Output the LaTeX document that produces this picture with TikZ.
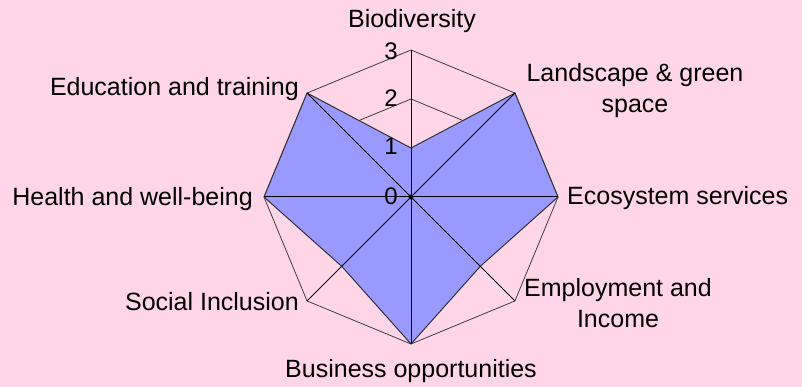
\documentclass[tikz,border=0pt]{standalone}
\usepackage{fontspec}
\setmainfont{Liberation Sans}
\definecolor{chartpink}{RGB}{255,214,231}
\definecolor{chartblue}{RGB}{153,153,255}
\begin{document}
\begin{tikzpicture}[x=1pt, y=1pt,
    gridline/.style={draw=black!75, line width=0.8pt},
    axisline/.style={draw=black, line width=1pt},
    areafill/.style={fill=chartblue, draw=black!80, line width=1pt, line join=round},
    catlabel/.style={font=\fontsize{25}{31}\selectfont, text=black, inner sep=0pt, align=center},
    ticklabel/.style={font=\fontsize{24}{28}\selectfont, text=black, inner sep=0pt, anchor=east}]

    \fill[chartpink] (-411,-190) rectangle (391,197);
    \useasboundingbox (-411,-190) rectangle (391,197);

    \coordinate (centre) at (0,0);
    \coordinate (bio) at (90:147);
    \coordinate (land) at (45:147);
    \coordinate (eco) at (0:147);
    \coordinate (employ) at (-45:147);
    \coordinate (business) at (-90:147);
    \coordinate (social) at (-135:147);
    \coordinate (health) at (180:147);
    \coordinate (educ) at (135:147);

    \foreach \r in {49,98,147}
        \draw[gridline] (90:\r) -- (45:\r) -- (0:\r) -- (-45:\r) -- (-90:\r) -- (-135:\r) -- (180:\r) -- (135:\r) -- cycle ;

    \draw[areafill] (90:49) -- (land) -- (eco) -- (-45:98) -- (business) -- (-135:98) -- (health) -- (educ) -- cycle ;

    \draw[axisline] (centre) -- (bio) ;
    \draw[axisline] (centre) -- (land) ;
    \draw[axisline] (centre) -- (eco) ;
    \draw[axisline] (centre) -- (employ) ;
    \draw[axisline] (centre) -- (business) ;
    \draw[axisline] (centre) -- (social) ;
    \draw[axisline] (centre) -- (health) ;
    \draw[axisline] (centre) -- (educ) ;
    \fill[black] (centre) circle (2.5) ;

    \node[ticklabel] (tick_0) at (-13,1) {0} ;
    \node[ticklabel] (tick_1) at (-13,50.5) {1} ;
    \node[ticklabel] (tick_2) at (-13,98.5) {2} ;
    \node[ticklabel] (tick_3) at (-13,145.5) {3} ;

    \node[catlabel] (bio_label) at (1,175.5) {Biodiversity} ;
    \node[catlabel] (land_label) at (224,106) {Landscape \& green\\space} ;
    \node[catlabel, anchor=west] (eco_label) at (156,-1) {Ecosystem services} ;
    \node[catlabel] (employ_label) at (207,-106) {Employment and\\Income} ;
    \node[catlabel] (business_label) at (0,-174.5) {Business opportunities} ;
    \node[catlabel, anchor=east] (social_label) at (-112,-104.5) {Social Inclusion} ;
    \node[catlabel, anchor=east] (health_label) at (-158,-2) {Health and well-being} ;
    \node[catlabel, anchor=east] (educ_label) at (-112,107.5) {Education and training} ;

\end{tikzpicture}
\end{document}
